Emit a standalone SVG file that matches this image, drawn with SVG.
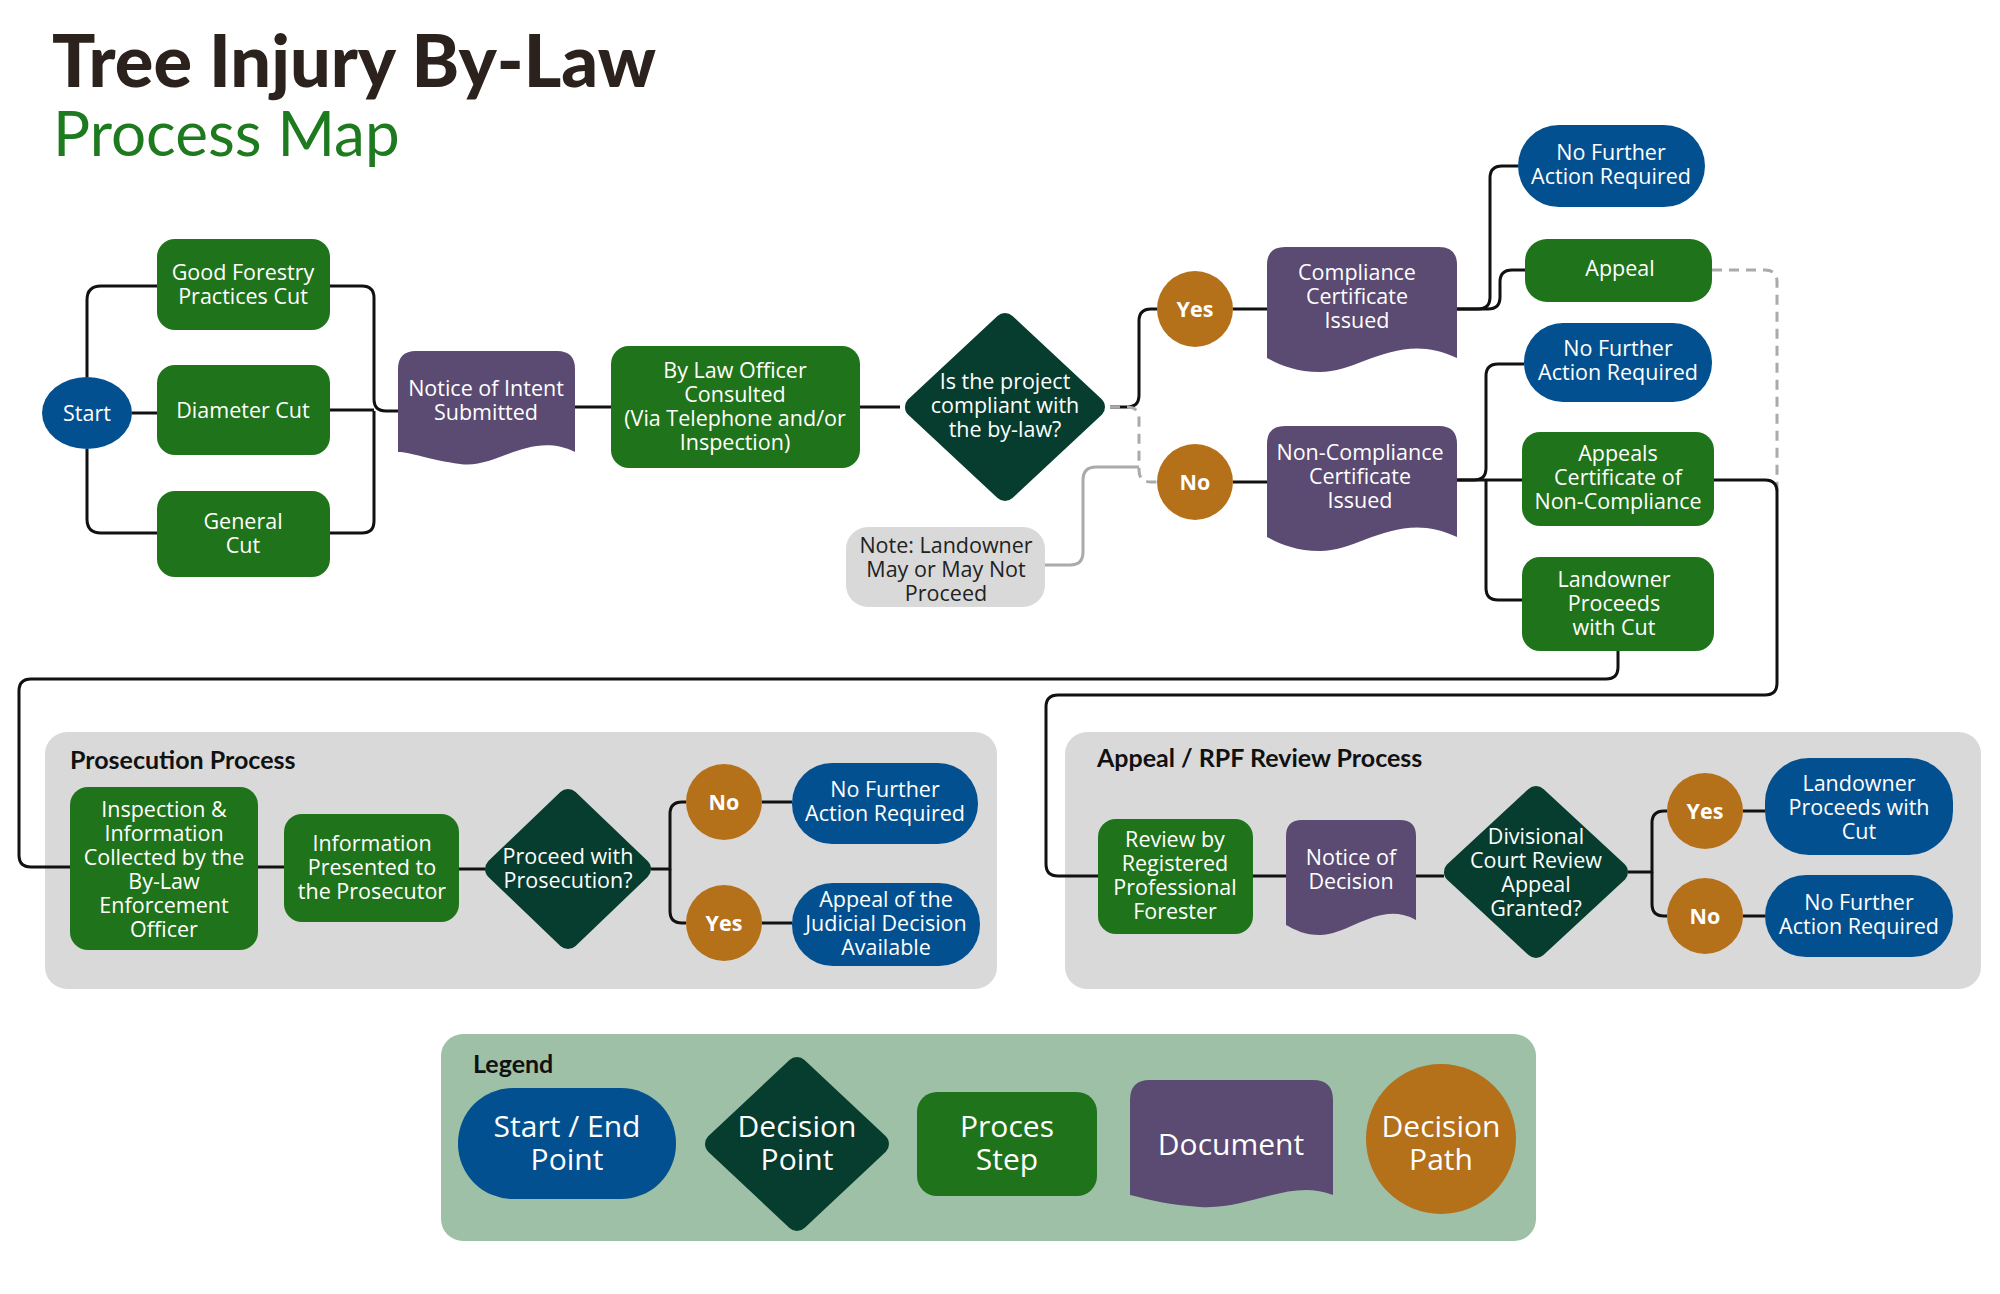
<svg xmlns="http://www.w3.org/2000/svg" width="2000" height="1294" viewBox="0 0 2000 1294">
<style>
.t{font-family:"Open Sans","Noto Sans",sans-serif;font-size:21.5px;fill:#fff;text-anchor:middle}
.lg{font-size:30px}
.h{font-family:"Lato","Open Sans",sans-serif;font-weight:bold;font-size:25px;fill:#111}
.blue{fill:#02508f}.green{fill:#1f731a}.purple{fill:#5b4a72}.orange{fill:#b5701a}
.dia{fill:#063d2e;stroke:#063d2e;stroke-width:22;stroke-linejoin:round}
.c path{fill:none;stroke:#111;stroke-width:3;stroke-linejoin:round}
.c .d{stroke:#aaa;stroke-dasharray:10 7}
.c .g{stroke:#aaa}
</style>
<rect width="2000" height="1294" fill="#fff"/>
<text x="52" y="87" font-family="Lato,sans-serif" font-weight="900" font-size="72" fill="#2b211d">Tree Injury By-Law</text>
<text x="53" y="156" font-family="Lato,'Open Sans',sans-serif" font-size="62" fill="#1e7a1e">Process Map</text>

<rect x="45" y="732" width="952" height="257" rx="22" fill="#d9d9d9"/>
<text class="h" x="70" y="769">Prosecution Process</text>
<rect x="1065" y="732" width="916" height="257" rx="22" fill="#d9d9d9"/>
<text class="h" x="1097" y="767">Appeal / RPF Review Process</text>
<rect x="441" y="1034" width="1095" height="207" rx="22" fill="#9dc0a6"/>
<text class="h" x="473" y="1073" font-size="28">Legend</text>

<g class="c" id="connectors">
<path d="M132,413H157"/>
<path d="M87,377V300Q87,286 101,286H157"/>
<path d="M87,449V519Q87,533 101,533H157"/>
<path d="M330,286H362Q374,286 374,298V399Q374,411 386,411H398"/>
<path d="M330,533H362Q374,533 374,521V411"/>
<path d="M330,410H374"/>
<path d="M575,407H611"/>
<path d="M860,407H900"/>
<path d="M1110,407H1127Q1139,407 1139,395V321Q1139,309 1151,309H1157"/>
<path class="d" d="M1110,407H1127Q1139,407 1139,419V470Q1139,482 1151,482H1157"/>
<path class="g" d="M1045,565H1070Q1083,565 1083,552V480Q1083,467 1096,467H1139"/>
<path d="M1233,309H1267"/>
<path d="M1233,482H1267"/>
<path d="M1457,309H1478Q1490,309 1490,297V178Q1490,166 1502,166H1518"/>
<path d="M1457,309H1488Q1500,309 1500,297V282Q1500,270 1512,270H1525"/>
<path d="M1457,480H1474Q1486,480 1486,468V376Q1486,364 1498,364H1524"/>
<path d="M1457,480H1522"/>
<path d="M1486,480V588Q1486,600 1498,600H1522"/>
<path class="d" d="M1712,270H1765Q1777,270 1777,282V491"/>
<path d="M1714,480H1765Q1777,480 1777,492V683Q1777,695 1765,695H1058Q1046,695 1046,707V864Q1046,876 1058,876H1098"/>
<path d="M1618,651V667Q1618,679 1606,679H31Q19,679 19,691V855Q19,867 31,867H70"/>
<path d="M258,867H284"/>
<path d="M459,869H485"/>
<path d="M651,869H670V814Q670,802 682,802H686"/>
<path d="M670,869V911Q670,923 682,923H686"/>
<path d="M762,802H792"/>
<path d="M762,923H792"/>
<path d="M1253,876H1286"/>
<path d="M1416,876H1444"/>
<path d="M1628,872H1652V823Q1652,811 1664,811H1667"/>
<path d="M1652,872V904Q1652,916 1664,916H1667"/>
<path d="M1743,811H1765"/>
<path d="M1743,916H1765"/>
</g>

<g id="start"><ellipse cx="87" cy="413" rx="45" ry="36" class="blue"/><text class="t" x="87" y="421">Start</text></g>
<g id="good"><rect x="157" y="239" width="173" height="91" rx="18" class="green"/><text class="t" x="243" y="280">Good Forestry<tspan x="243" dy="24">Practices Cut</tspan></text></g>
<g id="diam"><rect x="157" y="365" width="173" height="90" rx="18" class="green"/><text class="t" x="243" y="418">Diameter Cut</text></g>
<g id="gen"><rect x="157" y="491" width="173" height="86" rx="18" class="green"/><text class="t" x="243" y="529">General<tspan x="243" dy="24">Cut</tspan></text></g>
<g id="notice"><path class="purple" d="M398,369Q398,351 416,351H557Q575,351 575,369V452C530,430 495,470 460,464C430,460 410,452 398,452Z"/><text class="t" x="486" y="396">Notice of Intent<tspan x="486" dy="24">Submitted</tspan></text></g>
<g id="blo"><rect x="611" y="346" width="249" height="122" rx="18" class="green"/><text class="t" x="735" y="378">By Law Officer<tspan x="735" dy="24">Consulted</tspan><tspan x="735" dy="24">(Via Telephone and/or</tspan><tspan x="735" dy="24">Inspection)</tspan></text></g>
<g id="d1"><path class="dia" d="M1005,324L1094,407L1005,490L916,407Z"/><text class="t" x="1005" y="389">Is the project<tspan x="1005" dy="24">compliant with</tspan><tspan x="1005" dy="24">the by-law?</tspan></text></g>
<g id="yes1"><circle cx="1195" cy="309" r="38" class="orange"/><text class="t" x="1195" y="317" font-weight="bold">Yes</text></g>
<g id="no1"><circle cx="1195" cy="482" r="38" class="orange"/><text class="t" x="1195" y="490" font-weight="bold">No</text></g>
<g id="note"><rect x="846" y="527" width="199" height="80" rx="22" fill="#d9d9d9"/><text class="t" x="946" y="553" style="fill:#222">Note: Landowner<tspan x="946" dy="24">May or May Not</tspan><tspan x="946" dy="24">Proceed</tspan></text></g>
<g id="comp"><path class="purple" d="M1267,265Q1267,247 1285,247H1439Q1457,247 1457,265V358C1400,330 1360,372 1320,372C1295,372 1280,365 1267,358Z"/><text class="t" x="1357" y="280">Compliance<tspan x="1357" dy="24">Certificate</tspan><tspan x="1357" dy="24">Issued</tspan></text></g>
<g id="noncomp"><path class="purple" d="M1267,444Q1267,426 1285,426H1439Q1457,426 1457,444V537C1400,509 1360,551 1320,551C1295,551 1280,544 1267,537Z"/><text class="t" x="1360" y="460">Non-Compliance<tspan x="1360" dy="24">Certificate</tspan><tspan x="1360" dy="24">Issued</tspan></text></g>
<g id="nf1"><rect x="1518" y="125" width="187" height="82" rx="41" class="blue"/><text class="t" x="1611" y="160">No Further<tspan x="1611" dy="24">Action Required</tspan></text></g>
<g id="appeal"><rect x="1525" y="239" width="187" height="63" rx="22" class="green"/><text class="t" x="1620" y="276">Appeal</text></g>
<g id="nf2"><rect x="1524" y="323" width="188" height="79" rx="39" class="blue"/><text class="t" x="1618" y="356">No Further<tspan x="1618" dy="24">Action Required</tspan></text></g>
<g id="acnc"><rect x="1522" y="432" width="192" height="94" rx="18" class="green"/><text class="t" x="1618" y="461">Appeals<tspan x="1618" dy="24">Certificate of</tspan><tspan x="1618" dy="24">Non-Compliance</tspan></text></g>
<g id="lpc"><rect x="1522" y="557" width="192" height="94" rx="18" class="green"/><text class="t" x="1614" y="587">Landowner<tspan x="1614" dy="24">Proceeds</tspan><tspan x="1614" dy="24">with Cut</tspan></text></g>

<g id="insp"><rect x="70" y="787" width="188" height="163" rx="18" class="green"/><text class="t" x="164" y="817">Inspection &amp;<tspan x="164" dy="24">Information</tspan><tspan x="164" dy="24">Collected by the</tspan><tspan x="164" dy="24">By-Law</tspan><tspan x="164" dy="24">Enforcement</tspan><tspan x="164" dy="24">Officer</tspan></text></g>
<g id="info"><rect x="284" y="814" width="175" height="108" rx="18" class="green"/><text class="t" x="372" y="851">Information<tspan x="372" dy="24">Presented to</tspan><tspan x="372" dy="24">the Prosecutor</tspan></text></g>
<g id="d2"><path class="dia" d="M568,800L640,869L568,938L496,869Z"/><text class="t" x="568" y="864">Proceed with<tspan x="568" dy="24">Prosecution?</tspan></text></g>
<g id="no2"><circle cx="724" cy="802" r="38" class="orange"/><text class="t" x="724" y="810" font-weight="bold">No</text></g>
<g id="yes2"><circle cx="724" cy="923" r="38" class="orange"/><text class="t" x="724" y="931" font-weight="bold">Yes</text></g>
<g id="nf3"><rect x="792" y="763" width="186" height="81" rx="40" class="blue"/><text class="t" x="885" y="797">No Further<tspan x="885" dy="24">Action Required</tspan></text></g>
<g id="ajd"><rect x="792" y="883" width="188" height="83" rx="41" class="blue"/><text class="t" x="886" y="907">Appeal of the<tspan x="886" dy="24">Judicial Decision</tspan><tspan x="886" dy="24">Available</tspan></text></g>

<g id="rpf"><rect x="1098" y="819" width="155" height="115" rx="18" class="green"/><text class="t" x="1175" y="847">Review by<tspan x="1175" dy="24">Registered</tspan><tspan x="1175" dy="24">Professional</tspan><tspan x="1175" dy="24">Forester</tspan></text></g>
<g id="nod"><path class="purple" d="M1286,836Q1286,820 1302,820H1400Q1416,820 1416,836V920C1380,900 1350,935 1320,935C1305,935 1295,930 1286,925Z"/><text class="t" x="1351" y="865">Notice of<tspan x="1351" dy="24">Decision</tspan></text></g>
<g id="d3"><path class="dia" d="M1536,797L1617,872L1536,947L1455,872Z"/><text class="t" x="1536" y="844">Divisional<tspan x="1536" dy="24">Court Review</tspan><tspan x="1536" dy="24">Appeal</tspan><tspan x="1536" dy="24">Granted?</tspan></text></g>
<g id="yes3"><circle cx="1705" cy="811" r="38" class="orange"/><text class="t" x="1705" y="819" font-weight="bold">Yes</text></g>
<g id="no3"><circle cx="1705" cy="916" r="38" class="orange"/><text class="t" x="1705" y="924" font-weight="bold">No</text></g>
<g id="lpc2"><rect x="1765" y="758" width="188" height="97" rx="44" class="blue"/><text class="t" x="1859" y="791">Landowner<tspan x="1859" dy="24">Proceeds with</tspan><tspan x="1859" dy="24">Cut</tspan></text></g>
<g id="nf4"><rect x="1765" y="875" width="188" height="82" rx="41" class="blue"/><text class="t" x="1859" y="910">No Further<tspan x="1859" dy="24">Action Required</tspan></text></g>

<g id="lg1"><rect x="458" y="1088" width="218" height="111" rx="55" class="blue"/><text class="t lg" x="567" y="1137">Start / End<tspan x="567" dy="33">Point</tspan></text></g>
<g id="lg2"><path class="dia" d="M797,1068L878,1144L797,1220L716,1144Z"/><text class="t lg" x="797" y="1137">Decision<tspan x="797" dy="33">Point</tspan></text></g>
<g id="lg3"><rect x="917" y="1092" width="180" height="104" rx="20" class="green"/><text class="t lg" x="1007" y="1137">Proces<tspan x="1007" dy="33">Step</tspan></text></g>
<g id="lg4"><path class="purple" d="M1130,1100Q1130,1080 1150,1080H1313Q1333,1080 1333,1100V1195C1290,1178 1250,1210 1200,1207C1170,1205 1150,1200 1130,1195Z"/><text class="t lg" x="1231" y="1155">Document</text></g>
<g id="lg5"><circle cx="1441" cy="1139" r="75" class="orange"/><text class="t lg" x="1441" y="1137">Decision<tspan x="1441" dy="33">Path</tspan></text></g>
</svg>
